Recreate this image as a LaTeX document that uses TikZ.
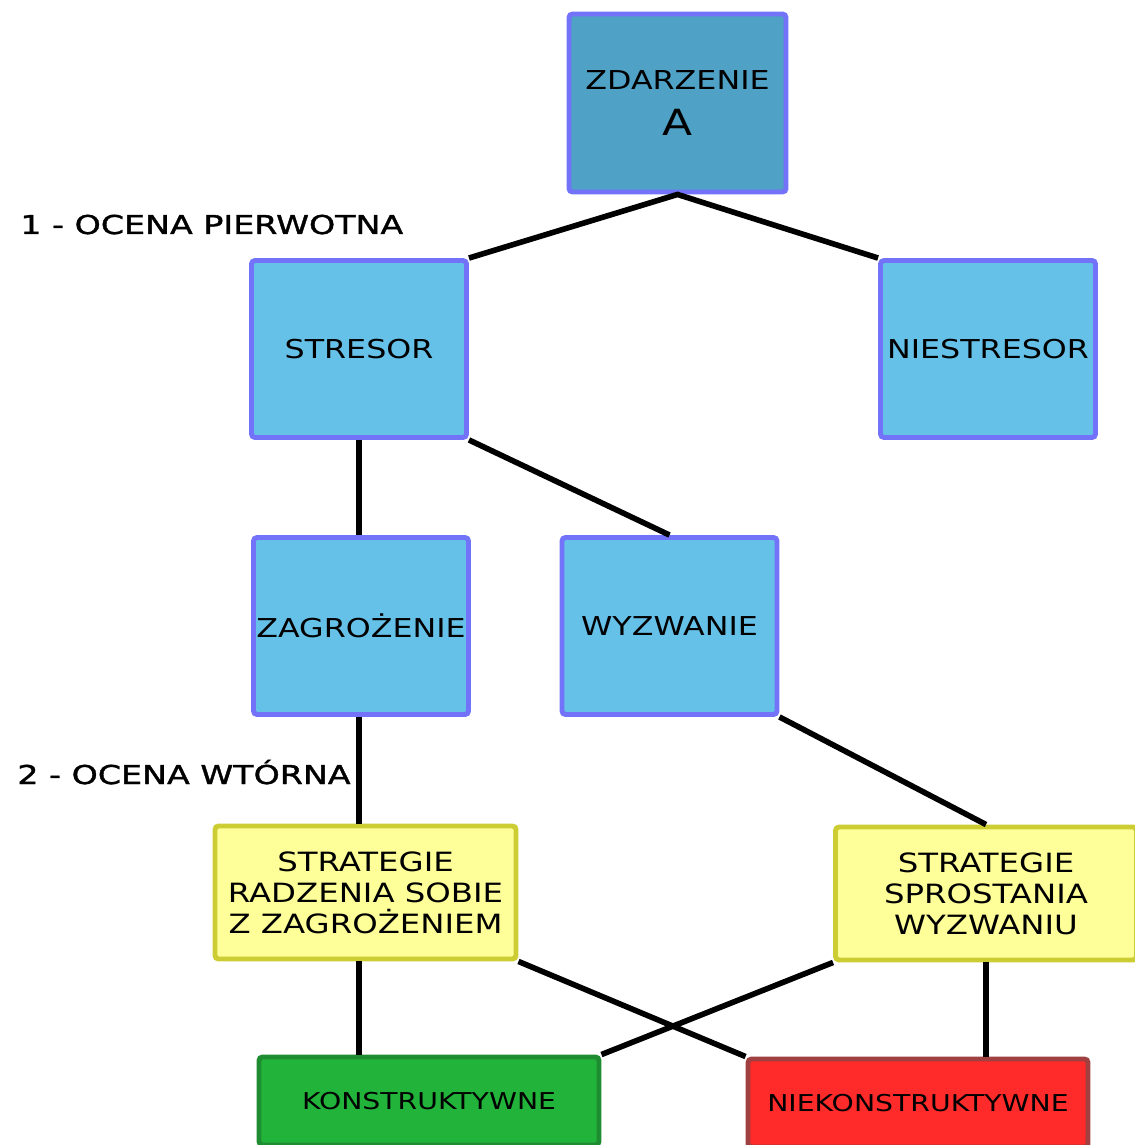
\documentclass[tikz,border=0pt]{standalone}
\usepackage{fontspec}
\setmainfont{DejaVu Sans}[FakeStretch=1.22]
\newfontfamily\lblfont{DejaVu Sans}[FakeStretch=1.28,FakeBold=1.4]
\usetikzlibrary{positioning, calc}

\definecolor{topfill}{RGB}{79,161,198}
\definecolor{blufill}{RGB}{102,193,232}
\definecolor{bluedge}{RGB}{115,115,250}
\definecolor{yelfill}{RGB}{255,255,153}
\definecolor{yeledge}{RGB}{204,204,51}
\definecolor{grnfill}{RGB}{34,180,58}
\definecolor{grnedge}{RGB}{30,140,48}
\definecolor{redfill}{RGB}{255,42,42}
\definecolor{rededge}{RGB}{160,64,64}

\begin{document}
\begin{tikzpicture}[
      x=0.02cm, y=-0.02cm,
      box/.style={draw, rectangle, rounded corners=2pt, line width=2.8pt, inner sep=0pt, align=center},
      blubox/.style={box, draw=bluedge, fill=blufill, minimum width=215*0.02cm, minimum height=177*0.02cm,
        font=\fontsize{14.8}{18}\selectfont},
      topbox/.style={blubox, fill=topfill, minimum width=217*0.02cm, minimum height=178*0.02cm},
      yelbox/.style={box, draw=yeledge, fill=yelfill, minimum width=301*0.02cm, minimum height=133*0.02cm,
        font=\fontsize{15.1}{17.6}\selectfont},
      goodbox/.style={box, draw=grnedge, fill=grnfill, minimum width=340*0.02cm, minimum height=88*0.02cm,
        font=\fontsize{13.2}{15}\selectfont},
      badbox/.style={goodbox, draw=rededge, fill=redfill},
      lbl/.style={anchor=base west, inner sep=0pt, font=\lblfont\fontsize{14.8}{18}\selectfont},
      link/.style={line width=3.2pt}
    ]
      \useasboundingbox (0,0) rectangle (1134,1145);

      \node[topbox] (zdarzenie) at (677.5,103) {ZDARZENIE\\[8.6pt]{\fontsize{20.5}{22}\selectfont A}};
      \node[blubox] (stresor) at (359,349) {STRESOR};
      \node[blubox] (niestresor) at (988,349) {NIESTRESOR};
      \node[blubox] (zagrozenie) at (361,626) {ZAGROŻENIE};
      \node[blubox] (wyzwanie) at (669.5,626) {WYZWANIE};
      \node[yelbox] (strzag) at (365.5,892.5) {STRATEGIE\\RADZENIA SOBIE\\Z ZAGROŻENIEM};
      \node[yelbox] (strwyz) at (986,893.5) {STRATEGIE\\SPROSTANIA\\WYZWANIU};
      \node[goodbox] (konstr) at (429,1101) {KONSTRUKTYWNE};
      \node[badbox] (niekonstr) at (918,1103) {NIEKONSTRUKTYWNE};

      \node[lbl] (ocena1) at (20,234) {1 - OCENA PIERWOTNA};
      \node[lbl] (ocena2) at (17,784) {2 - OCENA WTÓRNA};

      \draw[link] (stresor.north east) -- (zdarzenie.south) -- (niestresor.north west);
      \draw[link] (stresor.south) -- (stresor.south |- zagrozenie.north);
      \draw[link] (stresor.south east) -- (wyzwanie.north);
      \draw[link] (stresor.south |- zagrozenie.south) -- (stresor.south |- strzag.north);
      \draw[link] (wyzwanie.south east) -- (strwyz.north);
      \draw[link] (stresor.south |- strzag.south) -- (stresor.south |- konstr.north);
      \draw[link] (strzag.south east) -- (niekonstr.north west);
      \draw[link] (strwyz.south west) -- (konstr.north east);
      \draw[link] (strwyz.south) -- (strwyz.south |- niekonstr.north);
    \end{tikzpicture}
\end{document}
